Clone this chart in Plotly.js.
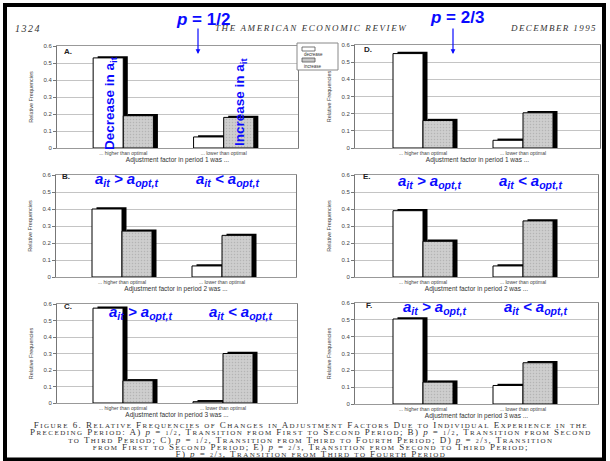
<!DOCTYPE html>
<html>
<head>
<meta charset="utf-8">
<script src="https://cdn.plot.ly/plotly-3.0.1.min.js"></script>
<style>html,body{margin:0;padding:0;background:#fff;}#chart{width:610px;height:461px;}</style>
</head>
<body>
<div id="chart"></div>
<script>
// ---------------- data ----------------
const categories = ["... higher than optimal", "... lower than optimal"];
const panelLetters = ["A.", "B.", "C.", "D.", "E.", "F."];
const periodNumbers = ["1", "2", "3", "1", "2", "3"];
// relative frequencies: decrease (white) / increase (gray) for each panel A..F
const decreaseHigher = [0.53, 0.40, 0.575, 0.55, 0.39, 0.505];
const increaseHigher = [0.19, 0.27, 0.135, 0.16, 0.21, 0.13];
const decreaseLower  = [0.065, 0.065, 0.008, 0.045, 0.065, 0.11];
const increaseLower  = [0.18, 0.245, 0.30, 0.205, 0.33, 0.245];
const yTickValues = [0, 0.1, 0.2, 0.3, 0.4, 0.5, 0.6];
const yTickLabels = ["0", "0.1", "0.2", "0.3", "0.4", "0.5", "0.6"];
const legendNames = ["decrease", "increase"];

// ---------------- layout helpers ----------------
const W = 610, H = 461;
const px = x => x / W;
const py = y => 1 - y / H;
const boxes = [
  {x: [57, 298], y: [46, 148], r: [-0.66, 1.74]},
  {x: [56, 296], y: [175, 277], r: [-0.66, 1.74]},
  {x: [57, 297], y: [304, 403], r: [-0.66, 1.74]},
  {x: [355, 600], y: [45, 148], r: [-0.68, 1.77]},
  {x: [355, 598], y: [175, 277], r: [-0.68, 1.75]},
  {x: [355, 598], y: [303, 404], r: [-0.68, 1.75]}
];
const depthY = 0.01, depthX = 0.045, barW = 0.3;
const BLUE = "#0a0aff";
const SANS = "Liberation Sans, Arial, sans-serif";
const SERIF = "Liberation Serif, Times New Roman, serif";

const traces = [];
const layout = {
  width: W, height: H,
  margin: {l: 0, r: 0, t: 0, b: 0},
  paper_bgcolor: "#fff", plot_bgcolor: "#fff",
  barmode: "overlay", showlegend: false,
  font: {family: SANS, color: "#333"},
  annotations: [], shapes: []
};

boxes.forEach((b, i) => {
  const s = i === 0 ? "" : String(i + 1);
  const xa = "x" + s, ya = "y" + s;
  const common = {xaxis: xa, yaxis: ya, type: "bar", x: categories, hoverinfo: "skip", showlegend: false};
  traces.push(Object.assign({}, common, {
    y: [decreaseHigher[i] + depthY, decreaseLower[i] + depthY],
    offset: -barW + depthX, width: barW, marker: {color: "#000", line: {width: 0}}
  }));
  traces.push(Object.assign({}, common, {
    name: legendNames[0],
    y: [decreaseHigher[i], decreaseLower[i]],
    offset: -barW, width: barW, marker: {color: "#fff", line: {color: "#000", width: 1}}
  }));
  traces.push(Object.assign({}, common, {
    y: [increaseHigher[i] + depthY, increaseLower[i] + depthY],
    offset: depthX, width: barW, marker: {color: "#000", line: {width: 0}}
  }));
  traces.push(Object.assign({}, common, {
    name: legendNames[1],
    y: [increaseHigher[i], increaseLower[i]],
    offset: 0, width: barW,
    marker: {color: "#c9c9c9", line: {color: "#000", width: 1},
      pattern: {shape: ".", fgcolor: "#b4b4b4", bgcolor: "#cecece", size: 3, solidity: 0.2}}
  }));

  layout["xaxis" + s] = {
    domain: [px(b.x[0]), px(b.x[1])], anchor: ya,
    type: "category", categoryorder: "array", categoryarray: categories,
    range: b.r, showgrid: false, zeroline: false,
    showline: true, linecolor: "#999", linewidth: 1, mirror: true,
    ticks: "", tickfont: {size: 5, color: "#444"},
    title: {text: "Adjustment factor in period " + periodNumbers[i] + " was ...",
            font: {size: 6.5, color: "#333"}, standoff: 1},
    automargin: false, fixedrange: true
  };
  layout["yaxis" + s] = {
    domain: [py(b.y[1]), py(b.y[0])], anchor: xa,
    range: [0, 0.6], tickvals: yTickValues, ticktext: yTickLabels,
    showgrid: true, gridcolor: "#c4c4c4", gridwidth: 1, zeroline: false,
    showline: true, linecolor: "#777", linewidth: 1, mirror: true,
    ticks: "outside", ticklen: 3, tickcolor: "#777",
    tickfont: {size: 6, color: "#444"},
    title: {text: "Relative Frequencies", font: {size: 5.5, color: "#444"}, standoff: 9},
    automargin: false, fixedrange: true
  };
});

const A = layout.annotations;
function note(x, y, text, opts) {
  A.push(Object.assign({xref: "paper", yref: "paper", x: px(x), y: py(y), text: text,
    showarrow: false, xanchor: "center", yanchor: "middle"}, opts || {}));
}

// panel letters
const letterPos = [[62, 51], [60, 176], [62, 306], [362, 50], [361, 176], [364, 305]];
panelLetters.forEach((t, i) => note(letterPos[i][0], letterPos[i][1], "<b>" + t + "</b>",
  {xanchor: "left", font: {family: SANS, size: 8, color: "#222"}}));

// page header
const hdr = {family: SERIF, size: 9, color: "#333"};
note(28, 28, '<span style="letter-spacing:1.5px"><i>1324</i></span>', {font: Object.assign({}, hdr, {size: 10})});
note(311, 28, '<span style="letter-spacing:1.6px"><i>THE AMERICAN ECONOMIC REVIEW</i></span>', {font: hdr});
note(553, 28, '<span style="letter-spacing:1.4px"><i>DECEMBER 1995</i></span>', {font: hdr});

// blue overlay notes
const bigBlue = {family: SANS, size: 17, color: BLUE};
note(203, 19, "<b><i>p</i> = 1/2</b>", {font: bigBlue});
note(457, 18, "<b><i>p</i> = 2/3</b>", {font: bigBlue});
A.push({xref: "paper", yref: "paper", x: px(198), y: py(54), ax: 0, ay: -27, text: "",
  showarrow: true, arrowhead: 2, arrowsize: 0.8, arrowwidth: 1.2, arrowcolor: BLUE});
A.push({xref: "paper", yref: "paper", x: px(453), y: py(54), ax: 0, ay: -27, text: "",
  showarrow: true, arrowhead: 2, arrowsize: 0.8, arrowwidth: 1.2, arrowcolor: BLUE});
const rotBlue = {family: SANS, size: 13.5, color: BLUE};
note(110, 103, "<b>Decrease in a<sub>it</sub></b>", {textangle: -90, font: rotBlue});
note(240, 102, "<b>Increase in a<sub>it</sub></b>", {textangle: -90, font: rotBlue});
const gt = "<b><i>a<sub>it</sub> &gt; a<sub>opt,t</sub></i></b>";
const lt = "<b><i>a<sub>it</sub> &lt; a<sub>opt,t</sub></i></b>";
const cmpFont = {family: SANS, size: 15, color: BLUE};
[[126, 180, gt], [227, 180, lt], [429, 181, gt], [530, 181, lt],
 [140, 312, gt], [241, 312, lt], [434, 307, gt], [535, 307, lt]].forEach(a =>
  note(a[0], a[1], a[2], {font: cmpFont}));

// legend (drawn box)
const S = layout.shapes;
S.push({type: "rect", xref: "paper", yref: "paper", x0: px(297), x1: px(338), y0: py(70), y1: py(43),
  line: {color: "#888", width: 1}, fillcolor: "#fff"});
S.push({type: "rect", xref: "paper", yref: "paper", x0: px(302), x1: px(315), y0: py(51), y1: py(47),
  line: {color: "#555", width: 0.8}, fillcolor: "#fff"});
S.push({type: "rect", xref: "paper", yref: "paper", x0: px(302), x1: px(315), y0: py(62), y1: py(58),
  line: {color: "#555", width: 0.8}, fillcolor: "#c8c8c8"});
note(302, 55, legendNames[0], {xanchor: "left", font: {size: 4.5, color: "#333"}});
note(302, 66, legendNames[1], {xanchor: "left", font: {size: 4.5, color: "#333"}});

// outer frame
S.push({type: "rect", xref: "paper", yref: "paper", x0: px(5), x1: px(604), y0: py(459.5), y1: py(5),
  line: {color: "#000", width: 4}, fillcolor: "rgba(0,0,0,0)", layer: "above"});

// caption in small caps, one multi-line annotation
const BIG = 9, SMALL = 7;
function smallCaps(s) {
  let out = "", i = 0;
  while (i < s.length) {
    const c = s[i];
    if (c === "{") { const j = s.indexOf("}", i); out += s.slice(i + 1, j); i = j + 1; continue; }
    let j = i;
    if (/[a-z]/.test(c)) {
      while (j < s.length && /[a-z]/.test(s[j])) j++;
      out += '<span style="font-size:' + SMALL + 'px">' + s.slice(i, j).toUpperCase() + "</span>";
    } else {
      while (j < s.length && !/[a-z{]/.test(s[j])) j++;
      out += '<span style="font-size:' + BIG + 'px">' + s.slice(i, j) + "</span>";
    }
    i = j;
  }
  return '<span style="letter-spacing:1.45px">' + out + "</span>";
}
const P = '{<span style="font-size:9px"><i>p</i></span>}';
const HALF = '{<span style="font-size:6px">1</span><span style="font-size:9px">/</span><span style="font-size:6px">2</span>}';
const TWO3 = '{<span style="font-size:6px">2</span><span style="font-size:9px">/</span><span style="font-size:6px">3</span>}';
const captionLines = [
  "Figure 6. Relative Frequencies of Changes in Adjustment Factors Due to Individual Experience in the",
  "Preceding Period: A) " + P + " = " + HALF + ", Transition from First to Second Period; B) " + P + " = " + HALF + ", Transition from Second",
  "to Third Period; C) " + P + " = " + HALF + ", Transition from Third to Fourth Period; D) " + P + " = " + TWO3 + ", Transition",
  "from First to Second Period; E) " + P + " = " + TWO3 + ", Transition from Second to Third Period;",
  "F) " + P + " = " + TWO3 + ", Transition from Third to Fourth Period"
];
note(311, 439, captionLines.map(smallCaps).join("<br>"),
  {font: {family: SERIF, size: 5.6, color: "#333"}, align: "center"});

Plotly.newPlot("chart", traces, layout, {staticPlot: true, displayModeBar: false});
</script>
</body>
</html>
